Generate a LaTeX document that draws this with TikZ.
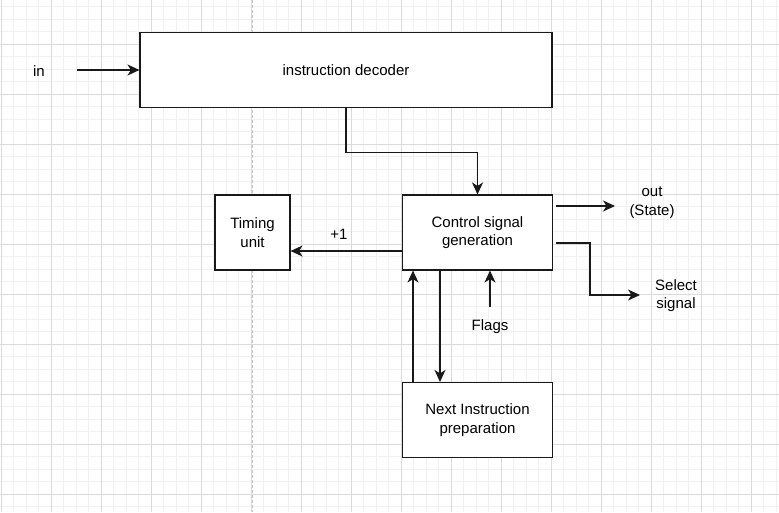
\documentclass[tikz,border=0pt]{standalone}
\usepackage{fontspec}
\setmainfont{Liberation Sans}
\usetikzlibrary{arrows.meta}
\definecolor{gridmajor}{HTML}{DADADA}
\definecolor{gridminor}{HTML}{F1F1F1}
\definecolor{guide}{HTML}{C4C4C4}
\begin{document}
\begin{tikzpicture}[x=1pt,y=-1pt,
  block/.style={draw=black!90,line width=1.1pt,fill=white,align=center,inner sep=0pt,
    font=\fontsize{15}{18.5}\selectfont},
  lbl/.style={align=center,inner sep=0pt,font=\fontsize{15}{18.5}\selectfont},
  arr/.style={draw=black!90,line width=1.1pt,-{Stealth[length=12pt,width=11pt,inset=3.5pt]}},
  minorline/.style={gridminor,line width=1pt},
  majorline/.style={gridmajor,line width=1pt}]
\useasboundingbox (0,0) rectangle (779,512);
\fill[white] (0,0) rectangle (779,512);
% background grid: minor every 12.5, major every 50
\foreach \i in {0,...,63}{\draw[minorline] ({1+12.5*\i},0) -- ({1+12.5*\i},512);}
\foreach \j in {0,...,42}{\draw[minorline] (0,{-6+12.5*\j}) -- (779,{-6+12.5*\j});}
\foreach \i in {0,...,15}{\draw[majorline] ({1+50*\i},0) -- ({1+50*\i},512);}
\foreach \j in {0,...,11}{\draw[majorline] (0,{-6+50*\j}) -- (779,{-6+50*\j});}
% page guide
\draw[guide,line width=1pt,dash pattern=on 3pt off 2pt] (252,0) -- (252,512);

% blocks
\node[block,minimum width=412pt,minimum height=75pt] (dec) at (346,70) {instruction decoder};
\node[block,minimum width=75pt,minimum height=75pt] (tim) at (252.5,232.5) {Timing\\unit};
\node[block,minimum width=150pt,minimum height=75pt] (csg) at (477.5,232.5) {Control signal\\generation};
\node[block,minimum width=150pt,minimum height=75pt] (nip) at (477.5,420) {Next Instruction\\preparation};

% free labels
\node[lbl] (inlbl) at (39,71) {in};
\node[lbl] (plus) at (339,234) {+1};
\node[lbl] (outlbl) at (652,202.5) {out\\(State)};
\node[lbl] (sellbl) at (676,295.5) {Select\\signal};
\node[lbl] (flags) at (490,327) {Flags};

% free connector ends
\coordinate (inS) at (77,70);
\coordinate (outS) at (556,206);
\coordinate (outE) at (615,206);
\coordinate (selS) at (556,243);
\coordinate (selE) at (640,295);
\coordinate (flgS) at (490,307);

% connectors
\draw[arr] (inS) -- (dec.west);
\draw[arr] (dec.south) -- ++(0,44) -| (csg.north);
\draw[arr] ([yshift=-18.5pt]csg.west) -- ([yshift=-18.5pt]tim.east);
\draw[arr] (outS) -- (outE);
\draw[arr] (selS) -- (590,243) |- (selE);
\draw[arr] (flgS) -- (flgS |- csg.south);
\draw[arr] ([xshift=-64.5pt]nip.north) -- ([xshift=-64.5pt]csg.south);
\draw[arr] ([xshift=-37.5pt]csg.south) -- ([xshift=-37.5pt]nip.north);
\end{tikzpicture}
\end{document}
